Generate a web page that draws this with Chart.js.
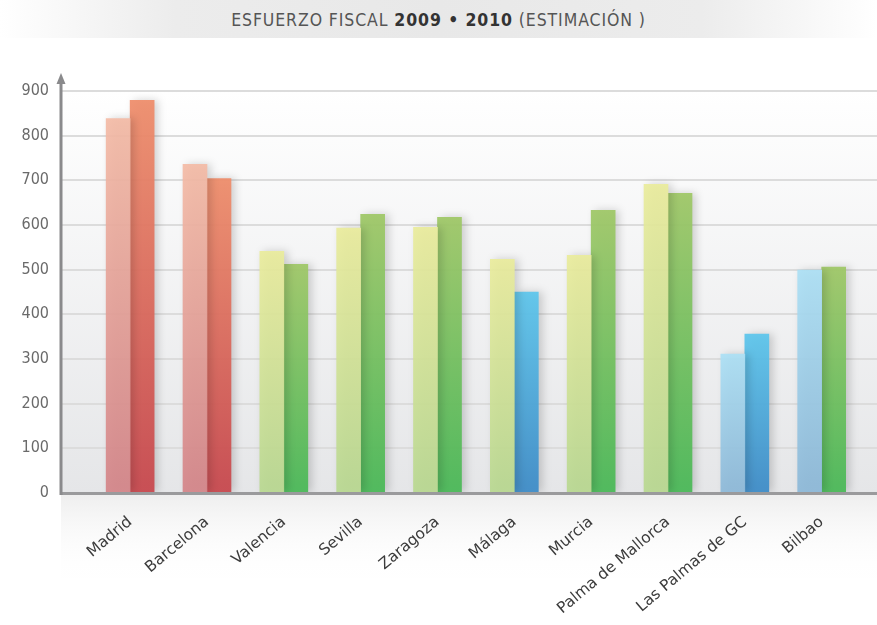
<!DOCTYPE html>
<html>
<head>
<meta charset="utf-8">
<script src="https://cdn.jsdelivr.net/npm/chart.js@4.4.1/dist/chart.umd.min.js"></script>
<style>
  html, body { margin: 0; padding: 0; background: #fff; }
  #wrap { position: relative; width: 877px; height: 625px; }
  #title {
    position: absolute; left: 0; top: 0; width: 877px; height: 38px;
    background: linear-gradient(to right, #fff 0%, #ececec 20%, #e8e8e8 50%, #ececec 80%, #fff 100%);
    font-family: "DejaVu Sans Condensed", "DejaVu Sans", sans-serif;
    font-size: 17.5px; letter-spacing: 0.9px; color: #555;
    text-align: center; line-height: 40px; z-index: 2;
  }
  #title b { color: #333; }
  canvas { position: absolute; left: 0; top: 0; }
</style>
</head>
<body>
<div id="wrap">
  <div id="title">ESFUERZO FISCAL <b>2009 • 2010</b> (ESTIMACIÓN )</div>
  <canvas id="chart" width="877" height="625"></canvas>
</div>
<script>
// --- Data ---
const categories = ['Madrid', 'Barcelona', 'Valencia', 'Sevilla', 'Zaragoza', 'Málaga', 'Murcia', 'Palma de Mallorca', 'Las Palmas de GC', 'Bilbao'];
const values2009 = [838, 736, 541, 593, 595, 523, 532, 691, 311, 499];
const values2010 = [879, 704, 512, 624, 617, 450, 633, 671, 356, 506];
const yTicks = [0, 100, 200, 300, 400, 500, 600, 700, 800, 900];

// colour family for each bar
const family2009 = ['red', 'red', 'green', 'green', 'green', 'green', 'green', 'green', 'blue', 'blue'];
const family2010 = ['red', 'red', 'green', 'green', 'green', 'blue', 'green', 'green', 'blue', 'green'];

const palette = {
    light: {
        red: ['rgba(244,187,166,0.92)', 'rgba(212,132,136,0.92)'],
        green: ['rgba(234,236,156,0.92)', 'rgba(184,216,144,0.92)'],
        blue: ['rgba(172,224,245,0.92)', 'rgba(140,184,216,0.92)']
    },
    dark: {
        red: ['rgba(239,142,108,0.94)', 'rgba(200,72,78,0.94)'],
        green: ['rgba(160,200,104,0.94)', 'rgba(74,185,88,0.94)'],
        blue: ['rgba(94,198,236,0.94)', 'rgba(62,140,200,0.94)']
    }
};

const barFill = (families, tone) => (context) => {
    const chart = context.chart;
    const { ctx, chartArea, scales } = chart;
    if (!chartArea || context.parsed == null) return palette[tone][families[context.dataIndex]][0];
    const top = scales.y.getPixelForValue(context.parsed.y);
    const bottom = scales.y.getPixelForValue(0);
    const [c1, c2] = palette[tone][families[context.dataIndex]];
    const g = ctx.createLinearGradient(0, top, 0, bottom);
    g.addColorStop(0, c1);
    g.addColorStop(1, c2);
    return g;
};

// --- Custom drawing: backgrounds, axis arrow, bar shadows ---
const decorPlugin = {
    id: 'decor',
    beforeDraw(chart) {
        const { ctx, chartArea } = chart;
        const zero = chart.scales.y.getPixelForValue(0);
        ctx.save();
        let g = ctx.createLinearGradient(0, chartArea.top, 0, zero);
        g.addColorStop(0, '#ffffff');
        g.addColorStop(1, '#e5e6e8');
        ctx.fillStyle = g;
        ctx.fillRect(chartArea.left, chartArea.top - 20, chartArea.right - chartArea.left, zero - chartArea.top + 20);
        g = ctx.createLinearGradient(0, zero, 0, zero + 85);
        g.addColorStop(0, '#eeeeee');
        g.addColorStop(1, 'rgba(255,255,255,0)');
        ctx.fillStyle = g;
        ctx.fillRect(chartArea.left, zero, chartArea.right - chartArea.left, 85);
        ctx.restore();
    },
    beforeDatasetsDraw(chart) {
        const ctx = chart.ctx;
        ctx.save();
        ctx.shadowColor = 'rgba(0,0,0,0.18)';
        ctx.shadowBlur = 8;
        ctx.shadowOffsetX = 4;
        ctx.shadowOffsetY = 0;
    },
    afterDatasetsDraw(chart) {
        const { ctx, chartArea } = chart;
        ctx.restore();
        const zero = chart.scales.y.getPixelForValue(0);
        const x = chartArea.left;
        ctx.save();
        // bottom axis
        ctx.strokeStyle = '#9a9a9c';
        ctx.lineWidth = 3;
        ctx.beginPath();
        ctx.moveTo(x - 1, zero + 0.5);
        ctx.lineTo(chartArea.right, zero + 0.5);
        ctx.stroke();
        // vertical axis with arrow
        ctx.strokeStyle = '#8a8a8c';
        ctx.beginPath();
        ctx.moveTo(x, zero + 2);
        ctx.lineTo(x, chartArea.top - 8);
        ctx.stroke();
        ctx.fillStyle = '#8a8a8c';
        ctx.beginPath();
        ctx.moveTo(x, chartArea.top - 18);
        ctx.lineTo(x - 4.5, chartArea.top - 7);
        ctx.lineTo(x + 4.5, chartArea.top - 7);
        ctx.closePath();
        ctx.fill();
        ctx.restore();
    }
};

new Chart(document.getElementById('chart'), {
    type: 'bar',
    data: {
        datasets: [
            {
                label: '2009',
                data: values2009.map((v, i) => ({ x: i, y: v })),
                backgroundColor: barFill(family2009, 'light'),
                barThickness: 24
            },
            {
                label: '2010',
                data: values2010.map((v, i) => ({ x: i, y: v })),
                backgroundColor: barFill(family2010, 'dark'),
                barThickness: 24
            }
        ]
    },
    options: {
        responsive: false,
        animation: false,
        layout: { padding: { top: 91, right: 0, left: 0, bottom: 0 } },
        plugins: { legend: { display: false }, tooltip: { enabled: false } },
        scales: {
            x: {
                type: 'linear',
                offset: false,
                min: -0.9,
                max: 9.72,
                afterBuildTicks: (scale) => { scale.ticks = categories.map((_, i) => ({ value: i })); },
                afterFit: (scale) => {
                    scale.height = 132;
                    scale.paddingLeft = 0;
                    scale.paddingRight = 0;
                },
                grid: { display: false, offset: false },
                border: { display: false },
                ticks: {
                    autoSkip: false,
                    minRotation: 40,
                    maxRotation: 40,
                    padding: 12,
                    color: '#3c3c3c',
                    font: { family: '"DejaVu Sans", sans-serif', size: 15.5 },
                    callback: (v) => categories[v]
                }
            },
            y: {
                min: 0,
                max: 900,
                afterBuildTicks: (scale) => { scale.ticks = yTicks.map(v => ({ value: v })); },
                afterFit: (scale) => { scale.width = 61; },
                grid: { color: '#dcdcdc', lineWidth: 2, drawTicks: false },
                border: { display: false },
                ticks: {
                    padding: 12,
                    color: '#6a6a6a',
                    font: { family: '"DejaVu Sans Condensed", "DejaVu Sans", sans-serif', size: 16 }
                }
            }
        }
    },
    plugins: [decorPlugin]
});
</script>
</body>
</html>
